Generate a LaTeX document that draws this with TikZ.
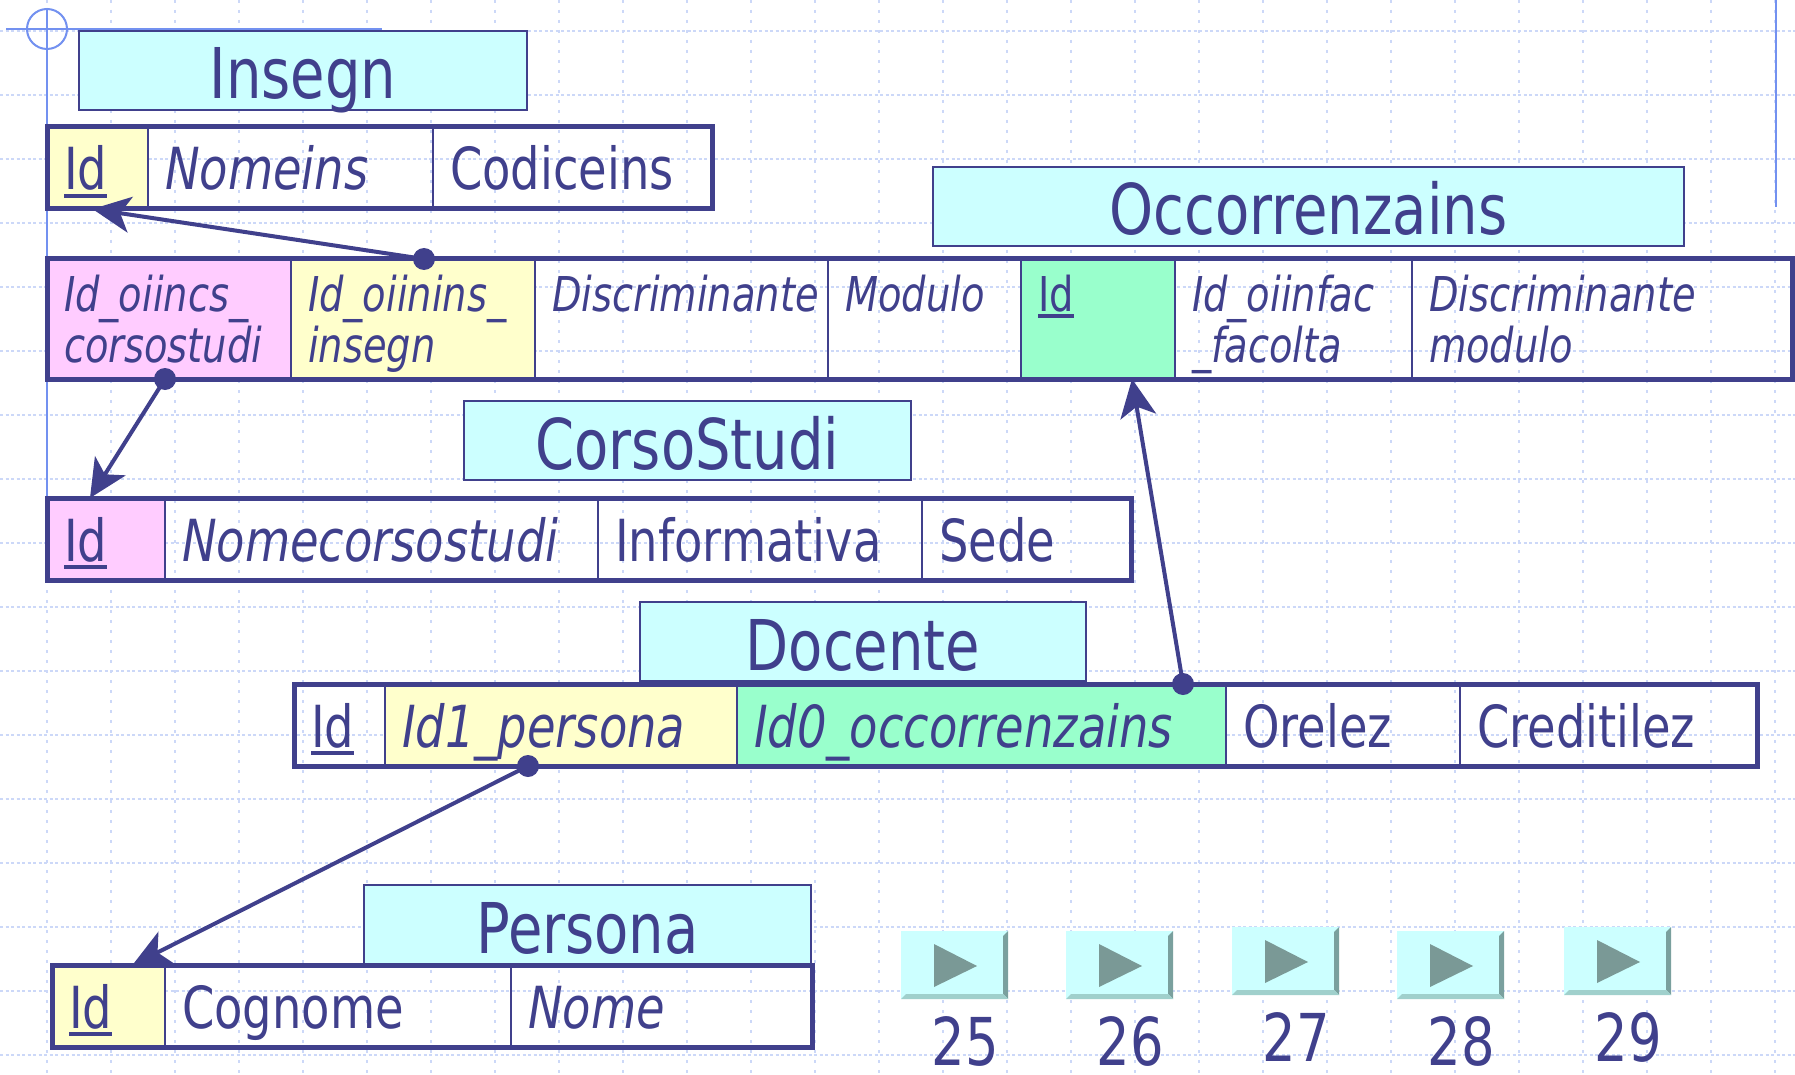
\documentclass[tikz,border=0pt]{standalone}
\usepackage{fontspec}
\setmainfont{DejaVu Sans}[FakeStretch=0.8]
\usepackage{xcolor}
\usepackage{tikz}
\usetikzlibrary{positioning,arrows.meta}

\definecolor{inchiostro}{RGB}{64,64,140}
\definecolor{azzurro}{RGB}{204,255,255}
\definecolor{giallino}{RGB}{255,255,204}
\definecolor{rosa}{RGB}{255,204,255}
\definecolor{verdino}{RGB}{153,255,204}
\definecolor{griglia}{RGB}{204,216,248}
\definecolor{mirino}{RGB}{115,145,240}
\definecolor{tastoombra}{RGB}{122,160,158}
\definecolor{tastobase}{RGB}{160,208,204}
\definecolor{freccina}{RGB}{122,153,150}

\hyphenpenalty=10000
% chiave primaria sottolineata
\newcommand{\chiave}[1]{\setbox0\hbox{#1}\rlap{\rule[-0.14em]{\wd0}{0.075em}}\box0}

\begin{document}
\begin{tikzpicture}[x=1pt, y=-1pt,
        % stili per tabelle e titoli
        titolo/.style={rectangle, draw=inchiostro, line width=2pt, fill=azzurro, text=inchiostro, minimum height=79pt, text height=57pt, text depth=0pt, inner sep=0pt, outer sep=0pt, anchor=north west, font=\fontsize{70}{74}\selectfont},
        cella/.style={rectangle, draw=inchiostro, line width=1.5pt, text=inchiostro, inner xsep=17pt, inner ysep=0pt, outer sep=0pt, align=left, minimum height=82pt, text height=63pt, text depth=19pt, font=\fontsize{58}{62}\selectfont},
        cella2/.style={cella, minimum height=120pt, text height=52pt, text depth=68pt, font=\fontsize{48}{51}\selectfont},
        larga/.code={\pgfmathsetmacro\cellatw{#1-34}\edef\cellatmp{\noexpand\tikzset{text width=\cellatw pt, minimum width=#1pt}}\cellatmp},
        bordo/.style={draw=inchiostro, line width=5pt},
        fk/.style={draw=inchiostro, line width=4pt, -{Stealth[length=38pt, width=36pt, inset=10pt]}},
        rigah/.style={draw=griglia, line width=2pt, dash pattern=on 3pt off 2.5pt},
        rigav/.style={draw=griglia, line width=2pt, dash pattern=on 3pt off 7pt},
        croce/.style={draw=mirino, line width=2pt},
        numero/.style={text=inchiostro, inner sep=0pt, font=\fontsize{66}{70}\selectfont}
    ]
        \useasboundingbox (0,0) rectangle (1795,1075);
        \fill[white] (0,0) rectangle (1795,1075);

        % griglia di sfondo
        \foreach \gy in {31,95,...,1055}
            \draw[rigah] (0,\gy) -- (1795,\gy);
        \foreach \gx in {47,111,...,1775}
            \draw[rigav] (\gx,0) -- (\gx,1075);
        \draw[croce] (6,29) -- (382,29);
        \draw[croce] (47,8) -- (47,498);
        \draw[croce] (47,29) circle (20);
        \draw[croce] (1776,0) -- (1776,207);

        % Insegn
        \node[titolo, minimum width=448pt] (tIns) at (79,31) {Insegn};
        \node[cella, larga=101, fill=giallino, anchor=north west] (ins1) at (47,127) {\chiave{Id}};
        \node[cella, larga=285, right=0pt of ins1] (ins2) {\textit{Nomeins}};
        \node[cella, larga=279, right=0pt of ins2] (ins3) {Codiceins};
        \draw[bordo] (ins1.north west) rectangle (ins3.south east);

        % Occorrenzains
        \node[titolo, minimum width=751pt] (tOcc) at (933,167) {Occorrenzains};
        \node[cella2, larga=244, fill=rosa, anchor=north west] (oi1) at (47,259) {\textit{Id\_oiincs\_}\\\textit{corsostudi}};
        \node[cella2, larga=244, fill=giallino, right=0pt of oi1] (oi2) {\textit{Id\_oiinins\_}\\\textit{insegn}};
        \node[cella2, larga=293, right=0pt of oi2] (oi3) {\textit{Discriminante}};
        \node[cella2, larga=193, right=0pt of oi3] (oi4) {\textit{Modulo}};
        \node[cella2, larga=154, fill=verdino, right=0pt of oi4] (oi5) {\chiave{Id}};
        \node[cella2, larga=237, right=0pt of oi5] (oi6) {\textit{Id\_oiinfac}\\\textit{\_facolta}};
        \node[cella2, larga=380, right=0pt of oi6] (oi7) {\textit{Discriminante}\\\textit{modulo}};
        \draw[bordo] (oi1.north west) rectangle (oi7.south east);

        % CorsoStudi
        \node[titolo, minimum width=447pt] (tCs) at (464,401) {CorsoStudi};
        \node[cella, larga=118, fill=rosa, anchor=north west] (cs1) at (47,498) {\chiave{Id}};
        \node[cella, larga=433, right=0pt of cs1] (cs2) {\textit{Nomecorsostudi}};
        \node[cella, larga=324, right=0pt of cs2] (cs3) {Informativa};
        \node[cella, larga=209, right=0pt of cs3] (cs4) {Sede};
        \draw[bordo] (cs1.north west) rectangle (cs4.south east);

        % Docente
        \node[titolo, minimum width=446pt] (tDoc) at (640,602) {Docente};
        \node[cella, larga=91, anchor=north west] (do1) at (294,684) {\chiave{Id}};
        \node[cella, larga=352, fill=giallino, right=0pt of do1] (do2) {\textit{Id1\_persona}};
        \node[cella, larga=489, fill=verdino, right=0pt of do2] (do3) {\textit{Id0\_occorrenzains}};
        \node[cella, larga=234, right=0pt of do3] (do4) {Orelez};
        \node[cella, larga=297, right=0pt of do4] (do5) {Creditilez};
        \draw[bordo] (do1.north west) rectangle (do5.south east);

        % Persona
        \node[titolo, minimum width=447pt] (tPer) at (364,885) {Persona};
        \node[cella, larga=113, fill=giallino, anchor=north west] (pe1) at (52,965) {\chiave{Id}};
        \node[cella, larga=346, right=0pt of pe1] (pe2) {Cognome};
        \node[cella, larga=301, right=0pt of pe2] (pe3) {\textit{Nome}};
        \draw[bordo] (pe1.north west) rectangle (pe3.south east);

        % chiavi esterne
        \coordinate (d1) at ([xshift=11pt]oi2.north);
        \coordinate (d2) at ([xshift=-4pt]oi1.south);
        \coordinate (d3) at ([xshift=-43pt]do3.north east);
        \coordinate (d4) at ([xshift=-33pt]do2.south);
        \draw[fk] (d1) -- ([xshift=-5pt]ins1.south);
        \draw[fk] (d2) -- ([xshift=-16pt]cs1.north);
        \draw[fk] (d3) -- ([xshift=34pt]oi5.south);
        \draw[fk] (d4) -- ([xshift=24pt]pe1.north);
        \foreach \d in {d1,d2,d3,d4}
            \fill[inchiostro] (\d) circle (11);

        % pulsanti
        \foreach \n/\bx/\by in {25/901/931, 26/1066/931, 27/1232/927, 28/1397/931, 29/1564/927}{
            \fill[azzurro] (\bx,\by) rectangle ++(107,68);
            \fill[tastoombra] (\bx+107,\by) -- ++(0,68) -- ++(-5,-5) -- ++(0,-58) -- cycle;
            \fill[tastobase] (\bx,\by+68) -- ++(107,0) -- ++(-5,-5) -- ++(-97,0) -- cycle;
            \fill[freccina] (\bx+33,\by+13) -- (\bx+76,\by+35) -- (\bx+33,\by+56) -- cycle;
            \node[numero, anchor=base] (num\n) at (\bx+64,\by+134) {\n};
        }
    \end{tikzpicture}
\end{document}
